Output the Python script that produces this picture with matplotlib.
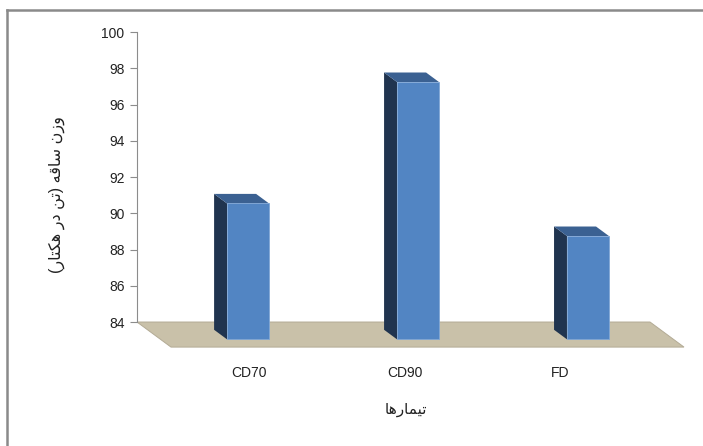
import matplotlib.pyplot as plt
from matplotlib.patches import Polygon
from matplotlib.lines import Line2D

categories = ["CD70", "CD90", "FD"]
values = [91.5, 98.2, 89.7]
yticks = [84, 86, 88, 90, 92, 94, 96, 98, 100]
ylabel = "وزن ساقه (تن در هکتار)"
xlabel = "تیمارها"

# presentation forms: isolated, final, initial, medial
FORMS = {
    'ا': ('\uFE8D', '\uFE8E', None, None),
    'ت': ('\uFE95', '\uFE96', '\uFE97', '\uFE98'),
    'د': ('\uFEA9', '\uFEAA', None, None),
    'ر': ('\uFEAD', '\uFEAE', None, None),
    'ز': ('\uFEAF', '\uFEB0', None, None),
    'س': ('\uFEB1', '\uFEB2', '\uFEB3', '\uFEB4'),
    'ق': ('\uFED5', '\uFED6', '\uFED7', '\uFED8'),
    'م': ('\uFEE1', '\uFEE2', '\uFEE3', '\uFEE4'),
    'ن': ('\uFEE5', '\uFEE6', '\uFEE7', '\uFEE8'),
    'ه': ('\uFEE9', '\uFEEA', '\uFEEB', '\uFEEC'),
    'و': ('\uFEED', '\uFEEE', None, None),
    'ک': ('\uFB8E', '\uFB8F', '\uFB90', '\uFB91'),
    'ی': ('\uFBFC', '\uFBFD', '\uFBFE', '\uFBFF'),
}


def shape(text):
    out = []
    for i, ch in enumerate(text):
        if ch not in FORMS:
            out.append(ch)
            continue
        prev = text[i - 1] if i > 0 else ''
        nxt = text[i + 1] if i + 1 < len(text) else ''
        jp = prev in FORMS and FORMS[prev][2] is not None
        jn = FORMS[ch][2] is not None and nxt in FORMS
        f = FORMS[ch]
        if jp and jn:
            out.append(f[3])
        elif jp:
            out.append(f[1])
        elif jn:
            out.append(f[2])
        else:
            out.append(f[0])
    vis = ''.join(reversed(out))
    return vis.translate(str.maketrans('()', ')('))


plt.rcParams['font.family'] = ['Liberation Sans', 'DejaVu Sans']

fig = plt.figure(figsize=(7.03, 4.46), dpi=100)
ax = fig.add_axes([0.1949, 0.278, 0.7297, 0.650])
ax.set_xlim(-0.515, 2.503)
ax.set_ylim(84, 100)

# oblique depth of the floor (x in category units, y in value units)
DX, DY = 0.2, -1.384
t0, t1 = 0.31, 0.69
w = 0.247
base = yticks[0]

x0, x1 = ax.get_xlim()
floor = Polygon([(x0, base), (x1, base), (x1 + DX, base + DY), (x0 + DX, base + DY)],
                closed=True, facecolor='#C9C1A9', edgecolor='#B3AB95', lw=0.7,
                clip_on=False, zorder=1)
ax.add_patch(floor)

for i, v in enumerate(values):
    xl, xr = i - w / 2, i + w / 2
    side = Polygon([(xl + t0 * DX, base + t0 * DY), (xl + t0 * DX, v + t0 * DY),
                    (xl + t1 * DX, v + t1 * DY), (xl + t1 * DX, base + t1 * DY)],
                   closed=True, facecolor='#20344F', edgecolor='none', clip_on=False, zorder=3)
    top = Polygon([(xl + t0 * DX, v + t0 * DY), (xr + t0 * DX, v + t0 * DY),
                   (xr + t1 * DX, v + t1 * DY), (xl + t1 * DX, v + t1 * DY)],
                  closed=True, facecolor='#3B6192', edgecolor='none', clip_on=False, zorder=3)
    front = Polygon([(xl + t1 * DX, base + t1 * DY), (xr + t1 * DX, base + t1 * DY),
                     (xr + t1 * DX, v + t1 * DY), (xl + t1 * DX, v + t1 * DY)],
                    closed=True, facecolor='#5285C3', edgecolor='#7FA6D6', lw=0.6,
                    clip_on=False, zorder=4)
    for p in (side, top, front):
        ax.add_patch(p)

# category labels sit a bit squeezed toward the middle (excel perspective)
for i, c in enumerate(categories):
    ax.text(0.144 + 0.915 * i, -0.176, c, transform=ax.get_xaxis_transform(),
            ha='center', va='center', fontsize=10, color='#222222')

ax.text(1.068, -0.3035, shape(xlabel), transform=ax.get_xaxis_transform(),
        ha='center', va='center', fontsize=11, color='#222222')
ax.text(-0.156, 0.438, shape(ylabel), transform=ax.transAxes, rotation=90,
        ha='center', va='center', fontsize=11.5, color='#222222')

ax.set_yticks(yticks)
ax.set_xticks([])
for s in ['top', 'right', 'bottom']:
    ax.spines[s].set_visible(False)
ax.spines['left'].set_color('#8C8C8C')
ax.tick_params(axis='y', length=5, color='#8C8C8C', labelsize=10, labelcolor='#222222', pad=4)
ax.patch.set_visible(False)

# outer chart border (cut off at right and bottom)
fig.add_artist(Line2D([7 / 703, 1], [1 - 10 / 446] * 2, color='#8A8A8A', lw=1.8))
fig.add_artist(Line2D([7 / 703] * 2, [0, 1 - 10 / 446], color='#8A8A8A', lw=1.8))

fig.savefig('out.png', dpi=100)
